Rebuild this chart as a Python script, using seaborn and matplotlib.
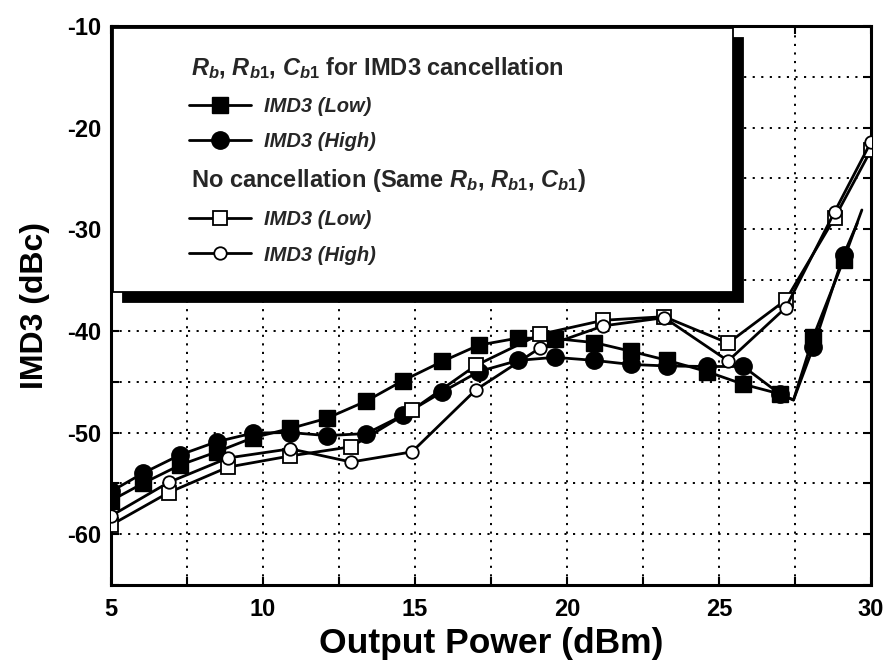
import matplotlib
matplotlib.use("Agg")
import matplotlib.pyplot as plt
import seaborn as sns
import numpy as np
from matplotlib.lines import Line2D
from matplotlib.legend_handler import HandlerLine2D
from matplotlib.ticker import MultipleLocator

# ---------------- data ----------------
x_cancel_low = [5.0, 6.05, 7.27, 8.48, 9.68, 10.9, 12.1, 13.4, 14.6, 15.9, 17.1,
                18.4, 19.6, 20.9, 22.1, 23.3, 24.6, 25.8, 27.0, 27.45, 28.1, 29.1, 29.7]
y_cancel_low = [-56.7, -55.0, -53.2, -51.9, -50.5, -49.6, -48.6, -46.9, -44.9, -43.0, -41.4,
                -40.7, -40.75, -41.15, -42.0, -42.9, -44.0, -45.25, -46.2, -46.8, -40.6, -33.0, -28.1]
x_cancel_high = [5.0, 6.05, 7.27, 8.48, 9.68, 10.9, 12.1, 13.4, 14.6, 15.9, 17.1,
                 18.4, 19.6, 20.9, 22.1, 23.3, 24.6, 25.8, 27.0, 27.45, 28.1, 29.1, 29.55]
y_cancel_high = [-55.8, -54.0, -52.2, -50.9, -50.05, -50.0, -50.3, -50.1, -48.3, -46.0, -44.0,
                 -42.9, -42.6, -42.9, -43.3, -43.45, -43.5, -43.5, -46.2, -46.8, -41.6, -32.5, -29.4]
marked_cancel = [0, 1, 2, 3, 4, 5, 6, 7, 8, 9, 10, 11, 12, 13, 14, 15, 16, 17, 18, 20, 21]

x_nocancel = [5.0, 6.9, 8.85, 10.9, 12.9, 14.9, 17.0, 19.1, 21.2, 23.2, 25.3, 27.2, 28.8, 30.0]
y_nocancel_low = [-59.1, -55.9, -53.4, -52.3, -51.4, -47.8, -43.4, -40.35, -38.95, -38.6,
                  -41.2, -36.95, -28.9, -22.2]
y_nocancel_high = [-58.2, -54.9, -52.5, -51.6, -52.9, -51.9, -45.8, -41.7, -39.5, -38.7,
                   -42.95, -37.7, -28.3, -21.4]

x_ticks = [5, 10, 15, 20, 25, 30]
y_ticks = [-60, -50, -40, -30, -20, -10]

header_cancel = r"$R_{b}$, $R_{\mathit{b1}}$, $C_{\mathit{b1}}$ for IMD3 cancellation"
header_nocancel = r"No cancellation (Same $R_{b}$, $R_{\mathit{b1}}$, $C_{\mathit{b1}}$)"
label_low = "IMD3 (Low)"
label_high = "IMD3 (High)"

# ---------------- style ----------------
sns.set_theme(style="ticks")
plt.rcParams["font.family"] = ["Liberation Sans", "DejaVu Sans"]
plt.rcParams["font.weight"] = "bold"
plt.rcParams["axes.unicode_minus"] = False
plt.rcParams["mathtext.fontset"] = "custom"
plt.rcParams["mathtext.it"] = "Liberation Sans:italic:bold"
plt.rcParams["mathtext.rm"] = "Liberation Sans:bold"
plt.rcParams["mathtext.bf"] = "Liberation Sans:bold"
plt.rcParams["mathtext.sf"] = "Liberation Sans:bold"

W, H = 890, 668
fig = plt.figure(figsize=(W / 100, H / 100), dpi=100)
ax = fig.add_axes([111 / W, 1 - 585 / H, 760 / W, 559 / H])

LW = 2.0
sty_fsq = dict(color="black", linewidth=LW, marker="s", markersize=11.5,
               markerfacecolor="black", markeredgecolor="black", markeredgewidth=1.0)
sty_fci = dict(color="black", linewidth=LW, marker="o", markersize=12.5,
               markerfacecolor="black", markeredgecolor="black", markeredgewidth=1.0)
sty_osq = dict(color="black", linewidth=LW, marker="s", markersize=10,
               markerfacecolor="white", markeredgecolor="black", markeredgewidth=1.3)
sty_oci = dict(color="black", linewidth=LW, marker="o", markersize=9,
               markerfacecolor="white", markeredgecolor="black", markeredgewidth=1.3)

sns.lineplot(x=x_cancel_low, y=y_cancel_low, ax=ax, estimator=None, sort=False,
             legend=False, markevery=marked_cancel, zorder=3, **sty_fsq)
sns.lineplot(x=x_cancel_high, y=y_cancel_high, ax=ax, estimator=None, sort=False,
             legend=False, markevery=marked_cancel, zorder=3, **sty_fci)
sns.lineplot(x=x_nocancel, y=y_nocancel_low, ax=ax, estimator=None, sort=False,
             legend=False, zorder=4, **sty_osq)
sns.lineplot(x=x_nocancel, y=y_nocancel_high, ax=ax, estimator=None, sort=False,
             legend=False, zorder=4, **sty_oci)

ax.set_xlim(5, 30)
ax.set_ylim(-65, -10)
ax.set_xticks(x_ticks)
ax.set_yticks(y_ticks)
ax.xaxis.set_minor_locator(MultipleLocator(2.5))
ax.yaxis.set_minor_locator(MultipleLocator(5))
ax.tick_params(which="both", direction="in", top=True, right=True, length=6,
               width=1.5, color="black")
ax.tick_params(which="major", labelsize=17, pad=7, labelcolor="black")
ax.tick_params(axis="x", which="major", pad=9)
for lab in ax.get_xticklabels() + ax.get_yticklabels():
    lab.set_fontweight("bold")
ax.grid(True, which="both", color="black", linestyle=(0, (1.1, 3.3)), linewidth=1.4)
ax.set_axisbelow(True)
for sp in ax.spines.values():
    sp.set_visible(True)
    sp.set_color("black")
    sp.set_linewidth(2.2)

ax.set_xlabel("Output Power (dBm)", fontsize=25.5, fontweight="bold", color="black", labelpad=5)
ax.set_ylabel("IMD3 (dBc)", fontsize=23, fontweight="bold", color="black", labelpad=12)


# ---------------- legend ----------------
class RightHandler(HandlerLine2D):
    """Draw the legend sample in the right part of the handle box."""

    def __init__(self, seg, **kw):
        super().__init__(**kw)
        self.seg = seg

    def create_artists(self, legend, orig_handle, xdescent, ydescent, width, height,
                       fontsize, trans):
        return super().create_artists(legend, orig_handle, xdescent - (width - self.seg),
                                      ydescent, self.seg, height, fontsize, trans)


handles = [Line2D([], [], linestyle="none", marker="None"),
           Line2D([], [], **sty_fsq), Line2D([], [], **sty_fci),
           Line2D([], [], linestyle="none", marker="None"),
           Line2D([], [], **sty_osq), Line2D([], [], **sty_oci)]
labels = [header_cancel, label_low, label_high, header_nocancel, label_low, label_high]

FS = 14.5
HFS = 17
fs_px = FS * fig.dpi / 72
hl, htp = 5.5, 0.65
seg_px = 62
leg = ax.legend(handles, labels, loc="upper left",
                bbox_to_anchor=(2 / 760, 0.2, 620 / 760, 1 - 2 / 559 - 0.2),
                mode="expand", borderaxespad=0, borderpad=1.35, labelspacing=0.8,
                handlelength=hl, handletextpad=htp, numpoints=1, fancybox=False,
                frameon=True, edgecolor="black", facecolor="white", framealpha=1,
                shadow={"color": "black", "alpha": 1, "ox": 7.2, "oy": -7.2},
                prop={"weight": "bold", "size": FS},
                handler_map={Line2D: RightHandler(seg_px * 72 / fig.dpi)})
leg.get_frame().set_linewidth(1.3)
leg.set_zorder(10)
texts = leg.get_texts()
for i in (1, 2, 4, 5):
    texts[i].set_fontstyle("italic")
shift = htp * fs_px + seg_px - 2
for i in (0, 3):
    texts[i].set_fontsize(HFS)
    texts[i].set_x(-shift)

fig.savefig("out.png", dpi=100)
